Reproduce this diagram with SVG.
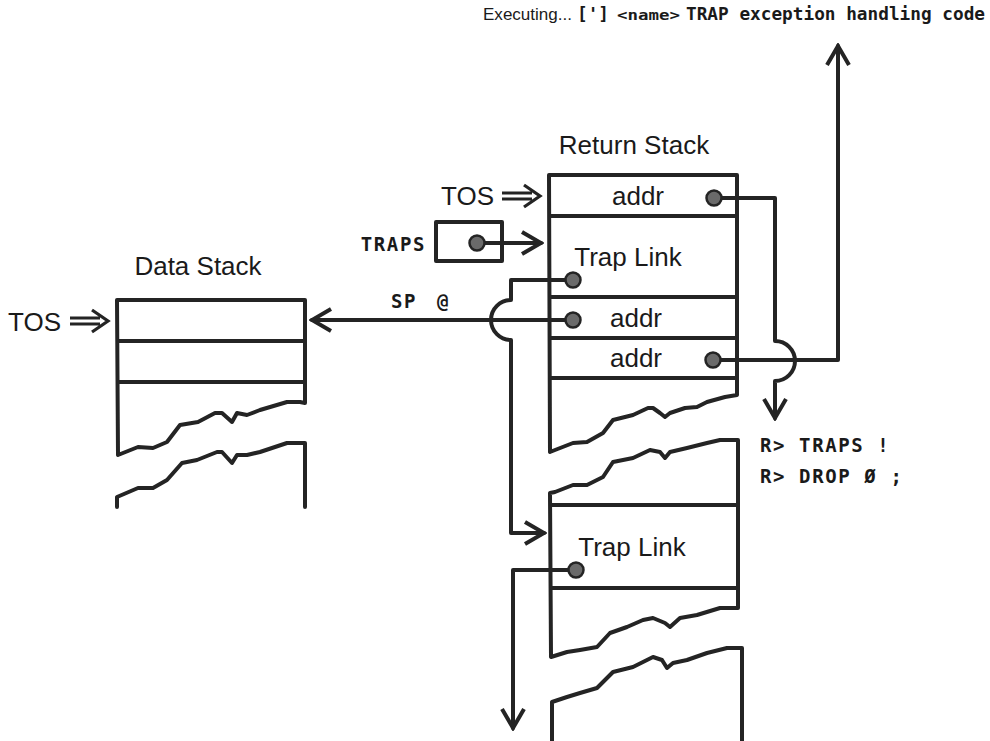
<svg xmlns="http://www.w3.org/2000/svg" width="990" height="741" viewBox="0 0 990 741">
<defs>
<style>
.ln{fill:none;stroke:#242424;stroke-width:4;stroke-linejoin:round;stroke-linecap:round}
.box{fill:#fff;stroke:#242424;stroke-width:4;stroke-linejoin:round}
.row{stroke:#242424;stroke-width:4}
.dot{fill:#6a6a6a;stroke:#242424;stroke-width:2.5}
.lbl{font-family:"Liberation Sans",Arial,sans-serif;fill:#1a1a1a;font-size:26px}
.mono{font-family:"DejaVu Sans Mono","Liberation Mono",monospace;font-weight:bold;fill:#1a1a1a;font-size:19px;letter-spacing:1.6px}
</style>
<marker id="arr" viewBox="0 0 24 26" refX="21" refY="13" markerWidth="24" markerHeight="26" markerUnits="userSpaceOnUse" orient="auto">
<path d="M2,2 L21,13 L2,24" fill="none" stroke="#242424" stroke-width="4" stroke-linejoin="miter"/>
</marker>
<g id="dblarrow">
<path d="M0,-3 H30 M0,3 H30 M22,-11 L38,0 L22,11" fill="none" stroke="#242424" stroke-width="3.2" stroke-linejoin="miter"/>
</g>
</defs>
<rect width="990" height="741" fill="#fff"/>

<text x="483" y="20" font-family="'Liberation Sans',Arial,sans-serif" font-size="16" fill="#1a1a1a" textLength="89" lengthAdjust="spacingAndGlyphs">Executing...</text>
<text x="577" y="20" font-family="'DejaVu Sans Mono',monospace" font-weight="bold" font-size="17" fill="#1a1a1a" textLength="32" lengthAdjust="spacingAndGlyphs">[']</text>
<text x="617" y="20" font-family="'DejaVu Sans Mono',monospace" font-weight="bold" font-size="14" fill="#1a1a1a" textLength="63" lengthAdjust="spacingAndGlyphs">&lt;name&gt;</text>
<text x="686" y="20" font-family="'DejaVu Sans Mono',monospace" font-weight="bold" font-size="17" fill="#1a1a1a" textLength="299" lengthAdjust="spacingAndGlyphs">TRAP exception handling code</text>

<g id="data-stack">
<text class="lbl" x="198" y="275" text-anchor="middle">Data Stack</text>
<text class="lbl" x="8" y="331" font-size="24">TOS</text>
<use href="#dblarrow" x="70" y="321"/>
<path class="box" d="M118,455 L117,300 L305,300 L305,403 L300,402 L287,402 L260,410 L247,415 L237,413 L232,422 L222,413 L215,413 L198,422 L180,425 L167,442 L153,448 L138,447 Z"/>
<line class="row" x1="117" y1="341" x2="305" y2="341"/>
<line class="row" x1="117" y1="382" x2="305" y2="382"/>
<path class="ln" d="M117,507 L117,497 L138,488 L153,488 L167,480 L182,463 L197,460 L217,452 L222,452 L232,463 L237,455 L247,455 L260,452 L287,443 L305,443 L305,507"/>
</g>

<g id="return-stack">
<text class="lbl" x="634" y="154" text-anchor="middle">Return Stack</text>
<text class="lbl" x="441" y="205" font-size="24">TOS</text>
<use href="#dblarrow" x="502" y="196"/>
<path class="box" d="M550,452 L549,175 L737,175 L737,395 L725,397 L707,402 L697,407 L685,408 L670,413 L665,417 L660,413 L653,408 L648,408 L633,415 L613,420 L603,433 L587,442 L573,443 L555,450 Z"/>
<line class="row" x1="549" y1="216" x2="737" y2="216"/>
<line class="row" x1="549" y1="297" x2="737" y2="297"/>
<line class="row" x1="549" y1="338" x2="737" y2="338"/>
<line class="row" x1="549" y1="378" x2="737" y2="378"/>
<text class="lbl" x="638" y="205" text-anchor="middle">addr</text>
<text class="lbl" x="628" y="266" text-anchor="middle">Trap Link</text>
<text class="lbl" x="636" y="327" text-anchor="middle">addr</text>
<text class="lbl" x="636" y="367" text-anchor="middle">addr</text>
</g>

<g id="return-stack-lower">
<path class="box" d="M551,657 L550,493 L555,492 L573,485 L587,485 L603,477 L613,462 L633,458 L650,450 L660,452 L665,458 L670,452 L687,448 L707,443 L720,440 L738,440 L738,608 L720,608 L697,615 L680,618 L670,627 L665,623 L653,618 L643,620 L627,627 L610,633 L597,647 L580,650 L567,652 Z"/>
<line class="row" x1="550" y1="505" x2="738" y2="505"/>
<line class="row" x1="550" y1="588" x2="738" y2="588"/>
<text class="lbl" x="632" y="556" text-anchor="middle">Trap Link</text>
<path class="ln" d="M552,745 L552,702 L567,697 L580,693 L597,688 L613,672 L633,667 L653,657 L662,660 L667,668 L673,663 L687,660 L707,653 L727,648 L742,648 L742,745"/>
</g>

<g id="traps">
<text class="mono" x="426" y="251" text-anchor="end">TRAPS</text>
<rect class="box" x="436" y="222" width="66" height="39"/>
</g>

<g id="sp-label">
<text class="mono" x="391" y="308">SP</text>
<text class="mono" x="437" y="308">@</text>
</g>

<g id="code">
<text class="mono" x="760" y="452">R&gt; TRAPS !</text>
<text class="mono" x="760" y="483">R&gt; DROP Ø ;</text>
</g>

<g id="connectors">
<path class="ln" d="M477,243 H541" marker-end="url(#arr)"/>
<path class="ln" d="M714,198 H775 V341 A20,20 0 0 1 775,381 V418" marker-end="url(#arr)"/>
<path class="ln" d="M713,360 H838 V46" marker-end="url(#arr)"/>
<path class="ln" d="M573,280 H511 V300 A20,20 0 0 0 511,340 V533 H544" marker-end="url(#arr)"/>
<path class="ln" d="M573,320 H312" marker-end="url(#arr)"/>
<path class="ln" d="M576,570 H513 V728" marker-end="url(#arr)"/>
</g>

<g id="dots">
<circle class="dot" cx="477" cy="243" r="7.5"/>
<circle class="dot" cx="714" cy="198" r="7.5"/>
<circle class="dot" cx="573" cy="280" r="7.5"/>
<circle class="dot" cx="573" cy="320" r="7.5"/>
<circle class="dot" cx="713" cy="360" r="7.5"/>
<circle class="dot" cx="576" cy="570" r="7.5"/>
</g>
</svg>
